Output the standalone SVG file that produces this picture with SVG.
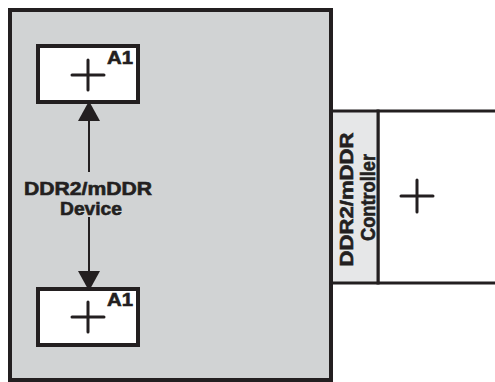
<svg xmlns="http://www.w3.org/2000/svg" width="495" height="382" viewBox="0 0 495 382">
<style>
.box{fill:#fff;stroke:#231f20;stroke-width:4}
.plus{stroke:#231f20;stroke-width:3;stroke-linecap:round;fill:none}
.lbl{font-family:"Liberation Sans",Arial,sans-serif;font-weight:bold;fill:#231f20;stroke:#231f20;stroke-width:0.6}
.conn{stroke:#231f20;stroke-width:2;fill:none}
</style>
<defs>
<marker id="ah" markerWidth="22" markerHeight="22" refX="20" refY="11" orient="auto" markerUnits="userSpaceOnUse">
<path d="M0,0 L20,11 L0,22 Z" fill="#231f20"/>
</marker>
</defs>
<g id="device">
<rect x="10" y="10" width="321" height="370" fill="#d1d3d4" stroke="#231f20" stroke-width="4"/>
<text class="lbl" x="88" y="195" font-size="18.5" text-anchor="middle" textLength="128" lengthAdjust="spacingAndGlyphs">DDR2/mDDR</text>
<text class="lbl" x="91" y="215" font-size="18.5" text-anchor="middle" textLength="62" lengthAdjust="spacingAndGlyphs">Device</text>
</g>
<g id="controller">
<rect x="378" y="111" width="130" height="172" fill="#fff" stroke="#231f20" stroke-width="3"/>
<rect x="331" y="111" width="47" height="172" fill="#e6e7e8" stroke="#231f20" stroke-width="3"/>
<line x1="331" y1="111" x2="331" y2="283" stroke="#231f20" stroke-width="4"/>
<text class="lbl" transform="translate(353,199.5) rotate(-90)" font-size="19" text-anchor="middle" textLength="134" lengthAdjust="spacingAndGlyphs">DDR2/mDDR</text>
<text class="lbl" transform="translate(374.5,197.5) rotate(-90)" font-size="19.5" text-anchor="middle" textLength="87" lengthAdjust="spacingAndGlyphs">Controller</text>
<path class="plus" d="M401,196 H433 M417,180 V212"/>
</g>
<g id="a1-top">
<rect class="box" x="38" y="46" width="100" height="56"/>
<path class="plus" d="M72,75 H104 M88,60 V90"/>
<text class="lbl" x="107" y="63.5" font-size="18.5" textLength="26" lengthAdjust="spacingAndGlyphs">A1</text>
</g>
<g id="a1-bottom">
<rect class="box" x="38" y="289" width="100" height="56"/>
<path class="plus" d="M72,317 H104 M88,302 V332"/>
<text class="lbl" x="107" y="306" font-size="18.5" textLength="26" lengthAdjust="spacingAndGlyphs">A1</text>
</g>
<g id="connectors">
<line class="conn" x1="89" y1="172" x2="89" y2="101" marker-end="url(#ah)"/>
<line class="conn" x1="89" y1="217" x2="89" y2="291" marker-end="url(#ah)"/>
</g>
</svg>
